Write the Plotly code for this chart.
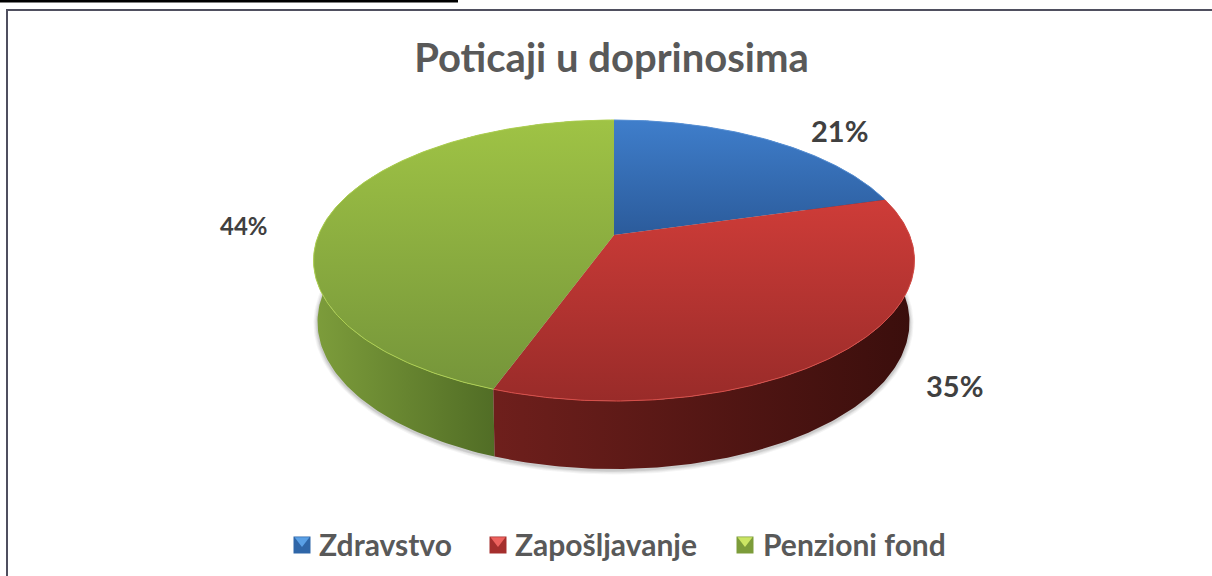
import numpy as np
import plotly.graph_objects as go

# ---- data ----
categories = ["Zdravstvo", "Zapošljavanje", "Penzioni fond"]
values = [20.6, 34.9, 44.5]
value_labels = ["21%", "35%", "44%"]
title_text = "Poticaji u doprinosima"

top_colors = [["#3f7ecb", "#2b5b9b"], ["#ce3c38", "#992b29"], ["#9fc345", "#75953a"]]
side_colors = [["#2b5b9b", "#1c3c66"], ["#6e1f1c", "#3a0e0c"], ["#7d9d3b", "#506c25"]]
rim_colors = ["#5a92d6", "#d84f4a", "#aed052"]
swatch_colors = [["#2f66a8", "#5aa0e6"], ["#a52f2d", "#ee625e"], ["#7c9c3a", "#cbe564"]]
label_sizes = [29, 29, 24]
label_centers = [(839, 130), (954, 385), (244, 225)]
legend_marks = [(302, 317), (498, 513), (745, 761)]

W, H = 1212, 576
CX, APEX_Y = 614.0, 235.0
A, B, K = 295.5, 135.9, 0.1815
ELL_CY = 260.5
LOW_CX, LOW_CY, LOW_SX, LOW_SY = 613.5, 322.0, 0.985, 1.046


def top_xy(theta):
    """Perspective projection of the pie's top circle; theta clockwise from 12 o'clock."""
    u, v = np.sin(theta), np.cos(theta)
    w = 1 + K * v
    return CX + A * u / w, APEX_Y - B * v / w


def low_xy(theta):
    x, y = top_xy(theta)
    return LOW_CX + LOW_SX * (x - CX), LOW_CY + LOW_SY * (y - ELL_CY)


fractions = np.cumsum([0] + values) / sum(values)
angles = fractions * 2 * np.pi

fig = go.Figure()

# soft shadow below the pie
full = np.linspace(0, 2 * np.pi, 361)
for grow, alpha in [(4.0, 0.05), (3.0, 0.06), (2.0, 0.08), (1.0, 0.10)]:
    lx, ly = low_xy(full)
    sx = LOW_CX + (lx - LOW_CX) * (1 + grow / 295)
    sy = LOW_CY + 1.5 + (ly - LOW_CY) * (1 + grow / 147)
    fig.add_trace(go.Scatter(x=sx, y=sy, mode="lines", fill="toself", line=dict(width=0),
                             fillcolor=f"rgba(60,60,60,{alpha})", hoverinfo="skip", showlegend=False))

# side walls
for i in [0, 2, 1]:
    th = np.linspace(angles[i], angles[i + 1], 160)
    tx, ty = top_xy(th)
    lx, ly = low_xy(th)
    xs = np.r_[tx, lx[::-1], tx[0]]
    ys = np.r_[ty, ly[::-1], ty[0]]
    start, stop = (498, 915) if i == 1 else (314, 498) if i == 2 else (614, 890)
    fig.add_trace(go.Scatter(
        x=xs, y=ys, mode="lines", fill="toself", line=dict(width=0),
        fillgradient=dict(type="horizontal", start=start, stop=stop,
                          colorscale=[[0, side_colors[i][0]], [1, side_colors[i][1]]]),
        hoverinfo="skip", showlegend=False))

# top faces
for i, cat in enumerate(categories):
    th = np.linspace(angles[i], angles[i + 1], 200)
    ax, ay = top_xy(th)
    xs = np.r_[CX, ax, CX]
    ys = np.r_[APEX_Y, ay, APEX_Y]
    fig.add_trace(go.Scatter(
        x=xs, y=ys, mode="lines", fill="toself", line=dict(width=0), name=cat,
        fillgradient=dict(type="vertical", start=float(ys.min()), stop=float(ys.max()),
                          colorscale=[[0, top_colors[i][0]], [1, top_colors[i][1]]]),
        hoverinfo="skip", showlegend=False))
    fig.add_trace(go.Scatter(x=ax, y=ay, mode="lines", line=dict(width=1, color=rim_colors[i]),
                             hoverinfo="skip", showlegend=False))

# legend glyphs and labels
annotations = []
for i, cat in enumerate(categories):
    mx, tx0 = legend_marks[i]
    fig.add_trace(go.Scatter(x=[mx], y=[545], mode="markers", hoverinfo="skip", showlegend=False,
                             marker=dict(symbol="square", size=17, color=swatch_colors[i][0], line=dict(width=0))))
    fig.add_trace(go.Scatter(x=[mx], y=[540.5], mode="markers", hoverinfo="skip", showlegend=False,
                             marker=dict(symbol="triangle-down", size=13, color=swatch_colors[i][1], line=dict(width=0))))
    annotations.append(dict(x=tx0, y=544, text=cat, showarrow=False, xanchor="left", yanchor="middle",
                            xref="x", yref="y", font=dict(family="Lato", size=30, color="#595959", weight="bold")))
    lx0, ly0 = label_centers[i]
    annotations.append(dict(x=lx0, y=ly0, text=value_labels[i], showarrow=False, xanchor="center", yanchor="middle",
                            xref="x", yref="y",
                            font=dict(family="Lato", size=label_sizes[i], color="#404040", weight="bold")))

shapes = [
    dict(type="line", x0=0, x1=458, y0=1, y1=1, line=dict(color="#000000", width=3), xref="x", yref="y"),
    dict(type="line", x0=6, x1=1212, y0=10, y1=10, line=dict(color="#4f4f5f", width=2), xref="x", yref="y"),
    dict(type="line", x0=7, x1=7, y0=9, y1=576, line=dict(color="#4f4f5f", width=2), xref="x", yref="y"),
]

fig.update_layout(
    width=W, height=H, margin=dict(l=0, r=0, t=0, b=0),
    paper_bgcolor="white", plot_bgcolor="white", showlegend=False,
    title=dict(text=title_text, x=611.5 / W, xanchor="center", y=1 - 58 / H, yanchor="middle",
               font=dict(family="Lato", size=40, color="#595959", weight="bold")),
    xaxis=dict(range=[0, W], visible=False, fixedrange=True),
    yaxis=dict(range=[H, 0], visible=False, fixedrange=True),
    annotations=annotations, shapes=shapes,
)

fig.write_html("out.html", config={"displayModeBar": False},
               post_script="document.body.style.margin='0';document.body.style.overflow='hidden';")
